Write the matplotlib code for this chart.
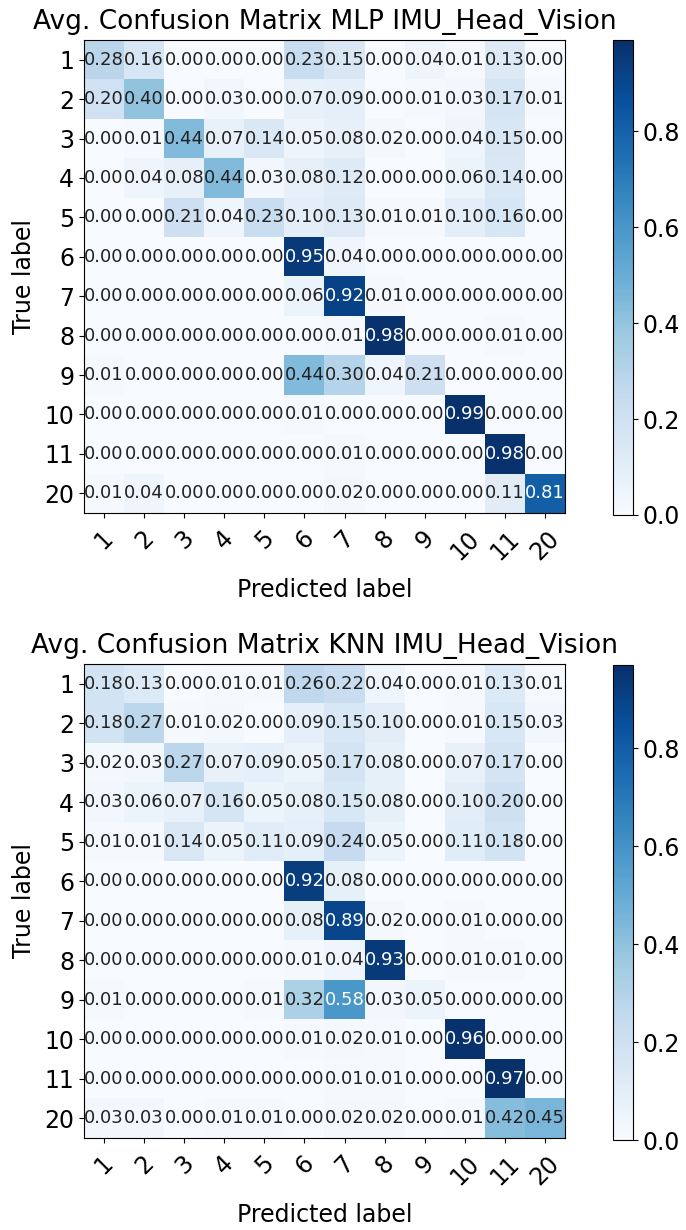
import numpy as np
import matplotlib
matplotlib.use("Agg")
import matplotlib.pyplot as plt

classes = ["1", "2", "3", "4", "5", "6", "7", "8", "9", "10", "11", "20"]

mlp_title = "Avg. Confusion Matrix MLP IMU_Head_Vision"
mlp_cm = [
    [0.28, 0.16, 0.00, 0.00, 0.00, 0.23, 0.15, 0.00, 0.04, 0.01, 0.13, 0.00],
    [0.20, 0.40, 0.00, 0.03, 0.00, 0.07, 0.09, 0.00, 0.01, 0.03, 0.17, 0.01],
    [0.00, 0.01, 0.44, 0.07, 0.14, 0.05, 0.08, 0.02, 0.00, 0.04, 0.15, 0.00],
    [0.00, 0.04, 0.08, 0.44, 0.03, 0.08, 0.12, 0.00, 0.00, 0.06, 0.14, 0.00],
    [0.00, 0.00, 0.21, 0.04, 0.23, 0.10, 0.13, 0.01, 0.01, 0.10, 0.16, 0.00],
    [0.00, 0.00, 0.00, 0.00, 0.00, 0.95, 0.04, 0.00, 0.00, 0.00, 0.00, 0.00],
    [0.00, 0.00, 0.00, 0.00, 0.00, 0.06, 0.92, 0.01, 0.00, 0.00, 0.00, 0.00],
    [0.00, 0.00, 0.00, 0.00, 0.00, 0.00, 0.01, 0.98, 0.00, 0.00, 0.01, 0.00],
    [0.01, 0.00, 0.00, 0.00, 0.00, 0.44, 0.30, 0.04, 0.21, 0.00, 0.00, 0.00],
    [0.00, 0.00, 0.00, 0.00, 0.00, 0.01, 0.00, 0.00, 0.00, 0.99, 0.00, 0.00],
    [0.00, 0.00, 0.00, 0.00, 0.00, 0.00, 0.01, 0.00, 0.00, 0.00, 0.98, 0.00],
    [0.01, 0.04, 0.00, 0.00, 0.00, 0.00, 0.02, 0.00, 0.00, 0.00, 0.11, 0.81],
]

knn_title = "Avg. Confusion Matrix KNN IMU_Head_Vision"
knn_cm = [
    [0.18, 0.13, 0.00, 0.01, 0.01, 0.26, 0.22, 0.04, 0.00, 0.01, 0.13, 0.01],
    [0.18, 0.27, 0.01, 0.02, 0.00, 0.09, 0.15, 0.10, 0.00, 0.01, 0.15, 0.03],
    [0.02, 0.03, 0.27, 0.07, 0.09, 0.05, 0.17, 0.08, 0.00, 0.07, 0.17, 0.00],
    [0.03, 0.06, 0.07, 0.16, 0.05, 0.08, 0.15, 0.08, 0.00, 0.10, 0.20, 0.00],
    [0.01, 0.01, 0.14, 0.05, 0.11, 0.09, 0.24, 0.05, 0.00, 0.11, 0.18, 0.00],
    [0.00, 0.00, 0.00, 0.00, 0.00, 0.92, 0.08, 0.00, 0.00, 0.00, 0.00, 0.00],
    [0.00, 0.00, 0.00, 0.00, 0.00, 0.08, 0.89, 0.02, 0.00, 0.01, 0.00, 0.00],
    [0.00, 0.00, 0.00, 0.00, 0.00, 0.01, 0.04, 0.93, 0.00, 0.01, 0.01, 0.00],
    [0.01, 0.00, 0.00, 0.00, 0.01, 0.32, 0.58, 0.03, 0.05, 0.00, 0.00, 0.00],
    [0.00, 0.00, 0.00, 0.00, 0.00, 0.01, 0.02, 0.01, 0.00, 0.96, 0.00, 0.00],
    [0.00, 0.00, 0.00, 0.00, 0.00, 0.00, 0.01, 0.01, 0.00, 0.00, 0.97, 0.00],
    [0.03, 0.03, 0.00, 0.01, 0.01, 0.00, 0.02, 0.02, 0.00, 0.01, 0.42, 0.45],
]

cbar_ticks = [0.0, 0.2, 0.4, 0.6, 0.8]

W, H = 686, 1230
fig = plt.figure(figsize=(W / 100, H / 100), dpi=100)

TITLE_FS = 19
LABEL_FS = 17
TICK_FS = 17
CELL_FS = 13


def frac_box(x0, y0, x1, y1):
    return [x0 / W, 1 - y1 / H, (x1 - x0) / W, (y1 - y0) / H]


def draw(cm, title, ax_box, cb_box):
    cm = np.array(cm)
    ax = fig.add_axes(frac_box(*ax_box))
    cax = fig.add_axes(frac_box(*cb_box))
    im = ax.imshow(cm, interpolation="nearest", cmap=plt.cm.Blues, aspect="auto")
    ax.set_title(title, fontsize=TITLE_FS, pad=8)
    cb = fig.colorbar(im, cax=cax, ticks=cbar_ticks)
    cb.ax.tick_params(labelsize=TICK_FS)
    cb.outline.set_linewidth(0.8)
    ticks = np.arange(len(classes))
    ax.set_xticks(ticks)
    ax.set_xticklabels(classes, rotation=45, fontsize=TICK_FS)
    ax.set_yticks(ticks)
    ax.set_yticklabels(classes, fontsize=TICK_FS)
    ax.tick_params(axis="x", pad=6)
    thresh = cm.max() / 2.0
    for i in range(cm.shape[0]):
        for j in range(cm.shape[1]):
            ax.text(j, i, format(cm[i, j], ".2f"), ha="center", va="center",
                    fontsize=CELL_FS,
                    color="white" if cm[i, j] > thresh else "#222222")
    ax.set_ylabel("True label", fontsize=LABEL_FS, labelpad=6)
    ax.set_xlabel("Predicted label", fontsize=LABEL_FS, labelpad=10)
    return ax


draw(mlp_cm, mlp_title, (84, 40, 565, 513), (613, 40, 633, 515))
draw(knn_cm, knn_title, (84, 664, 565, 1138), (613, 665, 633, 1140))

fig.savefig("out.png", dpi=100)
